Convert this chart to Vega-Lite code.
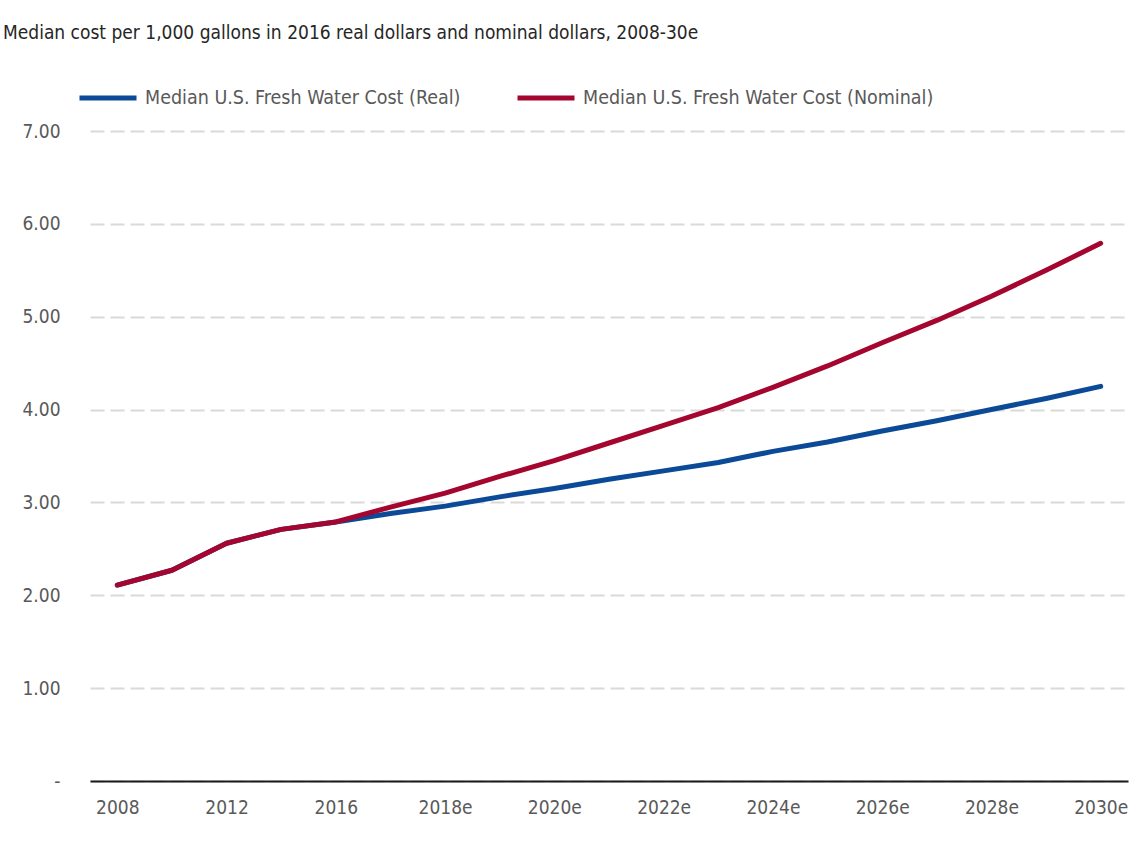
{
  "$schema": "https://vega.github.io/schema/vega-lite/v6.json",
  "autosize": {"type": "none"},
  "padding": {"left": 90, "top": 131, "right": 2, "bottom": 76},
  "width": 1038,
  "height": 650,
  "background": "white",
  "title": {
    "text": "Median cost per 1,000 gallons in 2016 real dollars and nominal dollars, 2008-30e",
    "anchor": "start",
    "frame": "group",
    "dx": -87,
    "font": "DejaVu Sans Condensed, Roboto, sans-serif",
    "fontSize": 19,
    "fontWeight": "normal",
    "color": "#262626",
    "offset": 24
  },
  "data": {
    "values": [
      {"year": "2008", "series": "Median U.S. Fresh Water Cost (Real)", "cost": 2.11},
      {"year": "2010", "series": "Median U.S. Fresh Water Cost (Real)", "cost": 2.27},
      {"year": "2012", "series": "Median U.S. Fresh Water Cost (Real)", "cost": 2.56},
      {"year": "2014", "series": "Median U.S. Fresh Water Cost (Real)", "cost": 2.71},
      {"year": "2016", "series": "Median U.S. Fresh Water Cost (Real)", "cost": 2.79},
      {"year": "2017e", "series": "Median U.S. Fresh Water Cost (Real)", "cost": 2.88},
      {"year": "2018e", "series": "Median U.S. Fresh Water Cost (Real)", "cost": 2.96},
      {"year": "2019e", "series": "Median U.S. Fresh Water Cost (Real)", "cost": 3.06},
      {"year": "2020e", "series": "Median U.S. Fresh Water Cost (Real)", "cost": 3.15},
      {"year": "2021e", "series": "Median U.S. Fresh Water Cost (Real)", "cost": 3.25},
      {"year": "2022e", "series": "Median U.S. Fresh Water Cost (Real)", "cost": 3.34},
      {"year": "2023e", "series": "Median U.S. Fresh Water Cost (Real)", "cost": 3.43},
      {"year": "2024e", "series": "Median U.S. Fresh Water Cost (Real)", "cost": 3.55},
      {"year": "2025e", "series": "Median U.S. Fresh Water Cost (Real)", "cost": 3.65},
      {"year": "2026e", "series": "Median U.S. Fresh Water Cost (Real)", "cost": 3.77},
      {"year": "2027e", "series": "Median U.S. Fresh Water Cost (Real)", "cost": 3.88},
      {"year": "2028e", "series": "Median U.S. Fresh Water Cost (Real)", "cost": 4.0},
      {"year": "2029e", "series": "Median U.S. Fresh Water Cost (Real)", "cost": 4.12},
      {"year": "2030e", "series": "Median U.S. Fresh Water Cost (Real)", "cost": 4.25},
      {"year": "2008", "series": "Median U.S. Fresh Water Cost (Nominal)", "cost": 2.11},
      {"year": "2010", "series": "Median U.S. Fresh Water Cost (Nominal)", "cost": 2.27},
      {"year": "2012", "series": "Median U.S. Fresh Water Cost (Nominal)", "cost": 2.56},
      {"year": "2014", "series": "Median U.S. Fresh Water Cost (Nominal)", "cost": 2.71},
      {"year": "2016", "series": "Median U.S. Fresh Water Cost (Nominal)", "cost": 2.79},
      {"year": "2017e", "series": "Median U.S. Fresh Water Cost (Nominal)", "cost": 2.95},
      {"year": "2018e", "series": "Median U.S. Fresh Water Cost (Nominal)", "cost": 3.1},
      {"year": "2019e", "series": "Median U.S. Fresh Water Cost (Nominal)", "cost": 3.28},
      {"year": "2020e", "series": "Median U.S. Fresh Water Cost (Nominal)", "cost": 3.45},
      {"year": "2021e", "series": "Median U.S. Fresh Water Cost (Nominal)", "cost": 3.64},
      {"year": "2022e", "series": "Median U.S. Fresh Water Cost (Nominal)", "cost": 3.83},
      {"year": "2023e", "series": "Median U.S. Fresh Water Cost (Nominal)", "cost": 4.02},
      {"year": "2024e", "series": "Median U.S. Fresh Water Cost (Nominal)", "cost": 4.24},
      {"year": "2025e", "series": "Median U.S. Fresh Water Cost (Nominal)", "cost": 4.47},
      {"year": "2026e", "series": "Median U.S. Fresh Water Cost (Nominal)", "cost": 4.72},
      {"year": "2027e", "series": "Median U.S. Fresh Water Cost (Nominal)", "cost": 4.96},
      {"year": "2028e", "series": "Median U.S. Fresh Water Cost (Nominal)", "cost": 5.22},
      {"year": "2029e", "series": "Median U.S. Fresh Water Cost (Nominal)", "cost": 5.5},
      {"year": "2030e", "series": "Median U.S. Fresh Water Cost (Nominal)", "cost": 5.79}
    ]
  },
  "mark": {"type": "line", "strokeWidth": 5, "strokeCap": "round", "strokeJoin": "round"},
  "encoding": {
    "x": {
      "field": "year",
      "type": "nominal",
      "sort": null,
      "scale": {"type": "point", "padding": 0.5},
      "axis": {
        "title": null,
        "values": ["2008", "2012", "2016", "2018e", "2020e", "2022e", "2024e", "2026e", "2028e", "2030e"],
        "labelAngle": 0,
        "ticks": false,
        "domainColor": "#1a1a1a",
        "domainWidth": 2,
        "labelPadding": 17,
        "labelFont": "DejaVu Sans Condensed, Roboto, sans-serif",
        "labelFontSize": 19,
        "labelColor": "#595959",
        "grid": false
      }
    },
    "y": {
      "field": "cost",
      "type": "quantitative",
      "scale": {"domain": [0, 7], "nice": false, "zero": true},
      "axis": {
        "title": null,
        "values": [0, 1, 2, 3, 4, 5, 6, 7],
        "labelExpr": "datum.value == 0 ? '-' : format(datum.value, '.2f')",
        "domain": false,
        "ticks": false,
        "labelPadding": 30,
        "labelFont": "DejaVu Sans Condensed, Roboto, sans-serif",
        "labelFontSize": 19,
        "labelColor": "#595959",
        "grid": true,
        "gridColor": "#d9d9d9",
        "gridWidth": 2,
        "gridDash": [14, 6]
      }
    },
    "color": {
      "field": "series",
      "type": "nominal",
      "sort": null,
      "scale": {
        "domain": ["Median U.S. Fresh Water Cost (Real)", "Median U.S. Fresh Water Cost (Nominal)"],
        "range": ["#0b4a97", "#a4062f"]
      },
      "legend": {
        "title": null,
        "orient": "none",
        "legendX": -13,
        "legendY": -64,
        "direction": "horizontal",
        "symbolType": "stroke",
        "symbolSize": 3249,
        "symbolStrokeWidth": 5,
        "labelOffset": 6,
        "columnPadding": 46,
        "labelFont": "DejaVu Sans Condensed, Roboto, sans-serif",
        "labelFontSize": 19.5,
        "labelColor": "#595959",
        "labelLimit": 500
      }
    }
  },
  "config": {
    "view": {"stroke": null}
  }
}
